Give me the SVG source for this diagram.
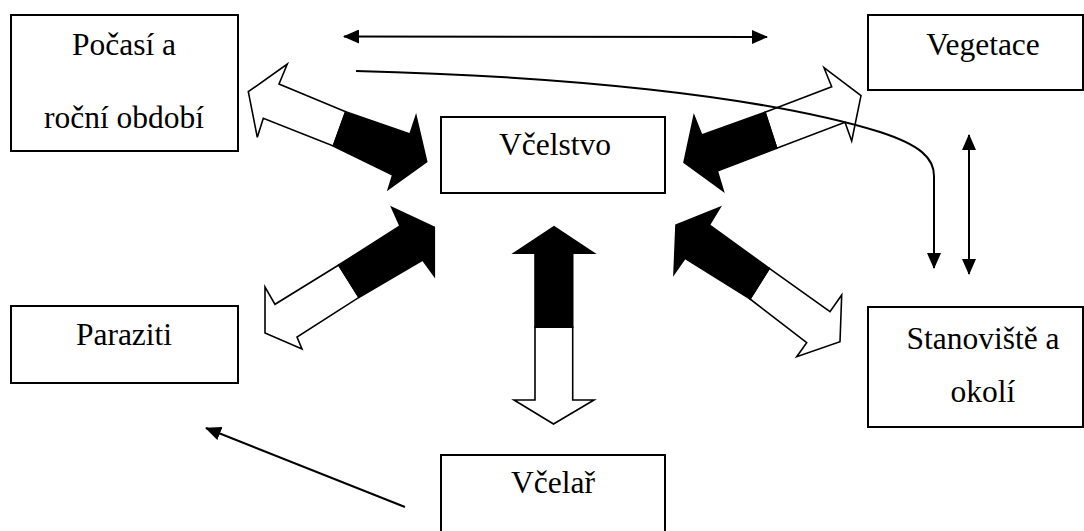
<svg xmlns="http://www.w3.org/2000/svg" width="1084" height="531" viewBox="0 0 1084 531">
  <style>
    .box { fill: #fff; stroke: #000; stroke-width: 2; }
    .lbl { font-family: 'Liberation Serif', 'Times New Roman', serif; font-size: 31.5px; fill: #000; text-anchor: middle; }
    .wpart { fill: #fff; stroke: #000; stroke-width: 1.6; stroke-linejoin: miter; }
    .bpart { fill: #000; stroke: #000; stroke-width: 1.6; stroke-linejoin: miter; }
    .line { fill: none; stroke: #000; stroke-width: 2; }
  </style>
  <defs>
    <marker id="head" markerUnits="userSpaceOnUse" markerWidth="16" markerHeight="14" refX="15" refY="7" orient="auto-start-reverse" viewBox="0 0 16 14">
      <path d="M0,0 L16,7 L0,14 z" fill="#000"/>
    </marker>
  </defs>

  <rect width="1084" height="531" fill="#fff"/>

  <!-- nodes -->
  <g id="pocasi">
    <rect class="box" x="11" y="15" width="227" height="136"/>
    <text class="lbl" x="124" y="55">Počasí a</text>
    <text class="lbl" x="124" y="128">roční období</text>
  </g>
  <g id="vegetace">
    <rect class="box" x="868" y="15" width="215" height="75"/>
    <text class="lbl" x="983" y="55">Vegetace</text>
  </g>
  <g id="vcelstvo">
    <rect class="box" x="441" y="117" width="224" height="76"/>
    <text class="lbl" x="555" y="155">Včelstvo</text>
  </g>
  <g id="paraziti">
    <rect class="box" x="11" y="306" width="227" height="77"/>
    <text class="lbl" x="124" y="345">Paraziti</text>
  </g>
  <g id="stanoviste">
    <rect class="box" x="868" y="307" width="215" height="120"/>
    <text class="lbl" x="983" y="349">Stanoviště a</text>
    <text class="lbl" x="983" y="402">okolí</text>
  </g>
  <g id="vcelar">
    <rect class="box" x="441" y="455" width="224" height="78"/>
    <text class="lbl" x="553" y="493">Včelař</text>
  </g>

  <!-- connectors -->
  <g id="connectors">
    <!-- two-way block arrows: white half toward the outer node, black half toward Včelstvo -->
    <g id="arrow-pocasi">
      <polygon class="wpart" points="345.7,111.7 279,84 287.3,64 248.3,91.7 257.3,137.3 263.3,118.3 333.3,146"/>
      <polygon class="bpart" points="345.7,111.7 410,134 416,116 426.7,161.7 388.3,189.3 392.7,175 333.3,146"/>
    </g>
    <g id="arrow-vegetace">
      <polygon class="wpart" points="765,112.3 831.7,86.7 824,67.7 861,95.7 851.7,141 845,122.3 776.7,148.3"/>
      <polygon class="bpart" points="765,112.3 701.7,135 694,115.7 684,162.3 723.3,191 717.3,171 776.7,148.3"/>
    </g>
    <g id="arrow-paraziti">
      <polygon class="wpart" points="338.7,265 275,304.3 265,287 265,333 302,349 297,337 359,297.3"/>
      <polygon class="bpart" points="338.7,265 400,226 391.7,207.3 434.3,227.3 434.3,276 422.7,260 359,297.3"/>
    </g>
    <g id="arrow-stanoviste">
      <polygon class="wpart" points="769.3,268.3 830,311.7 841.7,295 840,341.7 796.7,356.7 806.7,342.7 750,299"/>
      <polygon class="bpart" points="769.3,268.3 709.3,225 720,207.3 676,225 674,274 685,258.3 750,299"/>
    </g>
    <g id="arrow-vcelar">
      <polygon class="wpart" points="535,327.3 535,400 514,400 553.5,424 594,400 572.7,400 572.7,327.3"/>
      <polygon class="bpart" points="535,327.3 535,253.3 514,253.3 554,226.7 594,253.3 572.7,253.3 572.7,327.3"/>
    </g>

    <!-- thin arrows -->
    <line class="line" x1="344" y1="36.5" x2="767" y2="37" marker-start="url(#head)" marker-end="url(#head)"/>
    <path class="line" d="M356,71 C560,76 760,95 880,132 C920,145 934,158 934,176 L934,268" marker-end="url(#head)"/>
    <line class="line" x1="969" y1="135" x2="969" y2="274" marker-start="url(#head)" marker-end="url(#head)"/>
    <line class="line" x1="405" y1="507" x2="206" y2="428" marker-end="url(#head)"/>
  </g>
</svg>
